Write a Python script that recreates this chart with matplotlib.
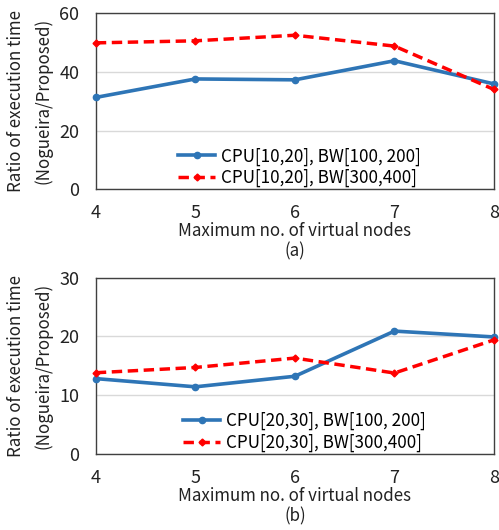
import matplotlib
matplotlib.use("Agg")
import matplotlib.pyplot as plt

x = [4, 5, 6, 7, 8]
a_blue = [31.3, 37.6, 37.3, 43.8, 35.9]
a_red = [49.9, 50.6, 52.5, 48.8, 34.0]
b_blue = [12.8, 11.4, 13.2, 20.9, 19.9]
b_red = [13.8, 14.7, 16.3, 13.75, 19.4]
a_labels = ["CPU[10,20], BW[100, 200]", "CPU[10,20], BW[300,400]"]
b_labels = ["CPU[20,30], BW[100, 200]", "CPU[20,30], BW[300,400]"]

plt.rcParams['font.family'] = ['Noto Sans CJK KR', 'DejaVu Sans']

fig = plt.figure(figsize=(4.99, 5.30), dpi=100)
BLUE = '#2E75B6'
RED = '#FF0000'
TXT = '#222222'

def panel(rect, yb, yr, labels, ymax, ystep, tag, leg_anchor):
    ax = fig.add_axes(rect)
    ax.plot(x, yb, color=BLUE, lw=2.6, marker='o', ms=4.5, label=labels[0], clip_on=False, zorder=3)
    ax.plot(x, yr, color=RED, lw=2.5, ls=(0, (3, 1.6)), marker='D', ms=3.5, label=labels[1], clip_on=False, zorder=3)
    ax.set_xlim(4, 8)
    ax.set_ylim(0, ymax)
    ax.set_xticks(x)
    ax.set_yticks(range(0, ymax + 1, ystep))
    ax.grid(axis='y', color='#d9d9d9', lw=1)
    ax.set_axisbelow(True)
    for s in ax.spines.values():
        s.set_color('#404040')
        s.set_linewidth(1)
    ax.tick_params(length=0, labelsize=13, colors=TXT)
    ax.tick_params(axis='x', pad=11)
    ax.tick_params(axis='y', pad=12)
    ax.set_xlabel("Maximum no. of virtual nodes\n(" + tag + ")", fontsize=12.2, color=TXT, labelpad=0, linespacing=1.15)
    ax.set_ylabel("Ratio of execution time\n(Nogueira/Proposed)", fontsize=12.2, color=TXT, labelpad=5, linespacing=1.55)
    ax.legend(loc='lower left', bbox_to_anchor=leg_anchor, frameon=False, fontsize=12.3,
              handlelength=2.2, handletextpad=0.35, labelspacing=0.2, borderaxespad=0)
    return ax

panel([0.192, 0.643, 0.798, 0.332], a_blue, a_red, a_labels, 60, 20, 'a', (0.189, -0.028))
panel([0.192, 0.144, 0.798, 0.332], b_blue, b_red, b_labels, 30, 10, 'b', (0.2015, -0.028))

fig.savefig("out.png", dpi=100)
